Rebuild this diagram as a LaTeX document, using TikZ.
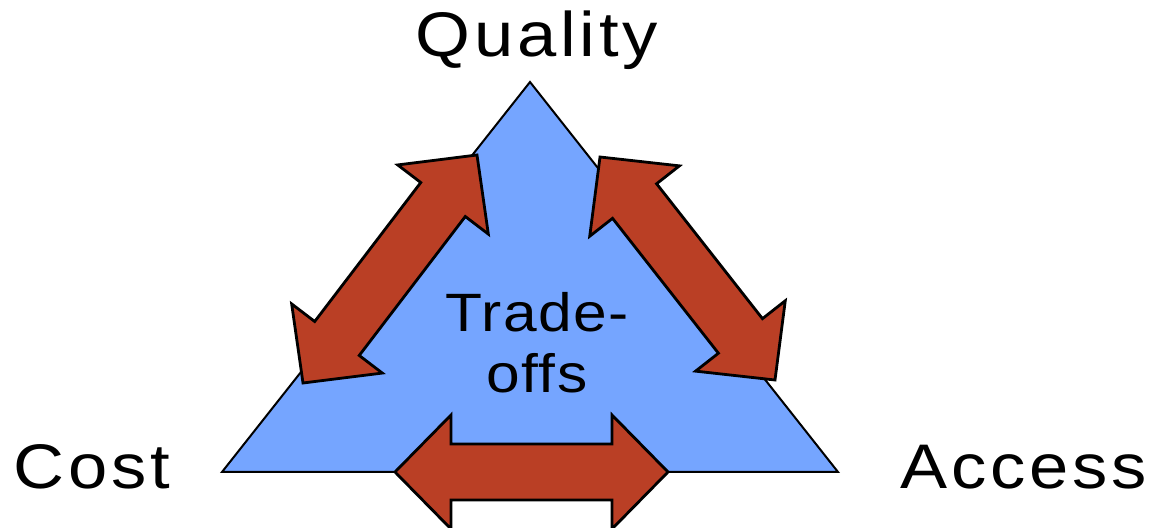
\documentclass[tikz,border=0pt]{standalone}
\usepackage{fontspec}
\setmainfont{Liberation Sans}[FakeStretch=1.12, LetterSpace=6]
\newfontfamily\tradefont{Liberation Sans}[FakeStretch=1.12, LetterSpace=3]
\usetikzlibrary{calc}

\definecolor{triblue}{RGB}{117,165,255}
\definecolor{arrred}{RGB}{186,63,37}

% head length, head half width, shaft half width
\def\arhead{28pt}
\def\arwing{28.5pt}
\def\arshaft{14pt}

\newcommand{\tradearrow}[2]{%
  \filldraw[arr] (#1)
    -- ($(#1)!\arhead!(#2)!\arwing!90:(#2)$)
    -- ($(#1)!\arhead!(#2)!\arshaft!90:(#2)$)
    -- ($(#2)!\arhead!(#1)!\arshaft!-90:(#1)$)
    -- ($(#2)!\arhead!(#1)!\arwing!-90:(#1)$)
    -- (#2)
    -- ($(#2)!\arhead!(#1)!\arwing!90:(#1)$)
    -- ($(#2)!\arhead!(#1)!\arshaft!90:(#1)$)
    -- ($(#1)!\arhead!(#2)!\arshaft!-90:(#2)$)
    -- ($(#1)!\arhead!(#2)!\arwing!-90:(#2)$)
    -- cycle;}

\begin{document}
\begin{tikzpicture}[x=0.5pt, y=-0.5pt,
        tri/.style={fill=triblue, draw=black, line width=1pt, line join=miter},
        arr/.style={fill=arrred, draw=black, line width=1.4pt, line join=miter},
        lbl/.style={inner sep=0pt, anchor=base, font=\fontsize{31.5}{36}\selectfont},
        ]
      \useasboundingbox (0,0) rectangle (1150,528);

      \coordinate (top) at (530,82);
      \coordinate (bl) at (222,472);
      \coordinate (br) at (838,472);
      \filldraw[tri] (top) -- (bl) -- (br) -- cycle;

      % the three trade-off arrows
      \coordinate (lo) at (303,383);
      \coordinate (lu) at (477,155);
      \coordinate (ru) at (600,157);
      \coordinate (ro) at (775,380);
      \coordinate (bw) at (395,472);
      \coordinate (be) at (668,472);
      \tradearrow{lo}{lu}
      \tradearrow{ru}{ro}
      \tradearrow{bw}{be}

      \node[lbl] (quality) at (537,57) {Quality};
      \node[lbl, anchor=base west] (cost) at (13,488) {Cost};
      \node[lbl, anchor=base east] (access) at (1147,488) {Access};
      \node[lbl, align=center, font=\tradefont\fontsize{27}{30.5}\selectfont] (trade) at (537,393) {Trade-\\offs};
    \end{tikzpicture}
\end{document}
